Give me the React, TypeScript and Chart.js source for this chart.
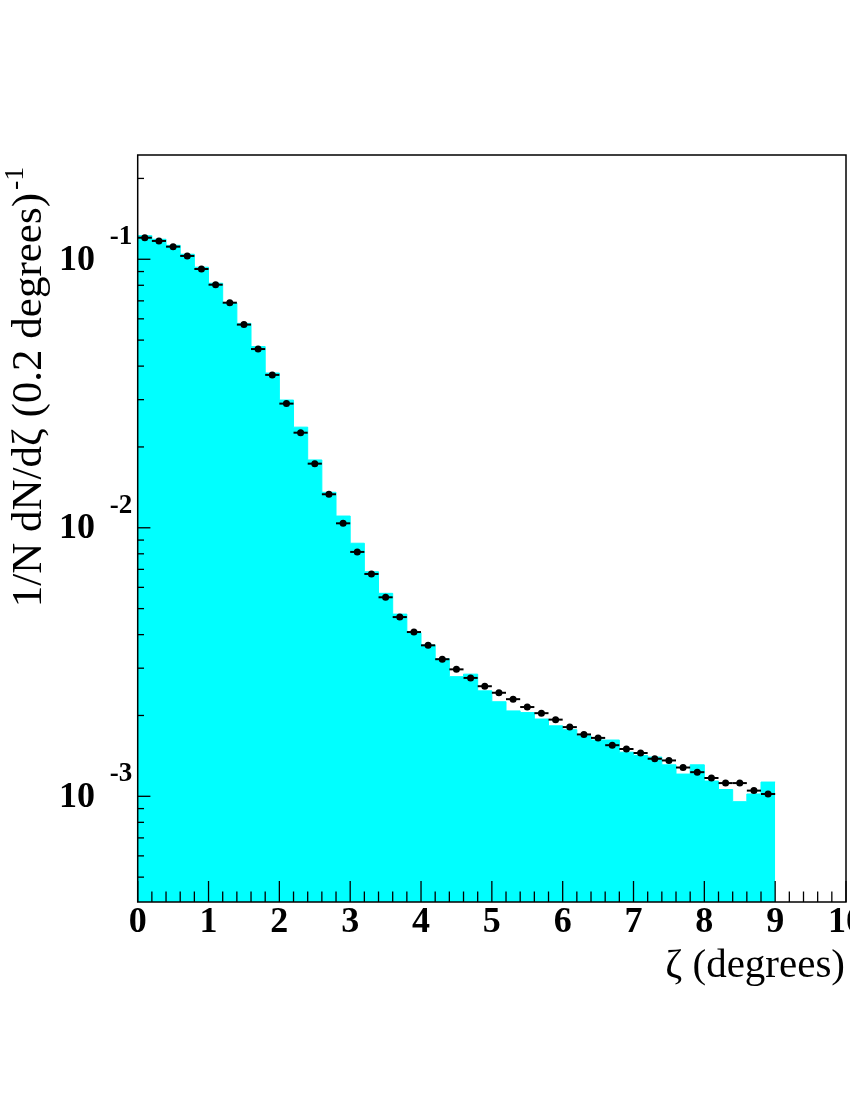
import React, { useEffect, useRef } from "react";
import { Chart, registerables } from "chart.js";

Chart.register(...registerables);

// ---- data ----
const binWidth = 0.2;
const binLow = [
  0.0, 0.2, 0.4, 0.6, 0.8, 1.0, 1.2, 1.4, 1.6, 1.8, 2.0, 2.2, 2.4, 2.6, 2.8,
  3.0, 3.2, 3.4, 3.6, 3.8, 4.0, 4.2, 4.4, 4.6, 4.8, 5.0, 5.2, 5.4, 5.6, 5.8,
  6.0, 6.2, 6.4, 6.6, 6.8, 7.0, 7.2, 7.4, 7.6, 7.8, 8.0, 8.2, 8.4, 8.6, 8.8,
];
// cyan histogram (simulation)
const histValues = [
  0.1224, 0.1187, 0.1127, 0.1044, 0.0934, 0.0814, 0.0687, 0.0577, 0.0473, 0.0377,
  0.0299, 0.0237, 0.01789, 0.01356, 0.01106, 0.00876, 0.00686, 0.0057, 0.00477, 0.00407,
  0.00366, 0.00325, 0.00279, 0.00285, 0.00247, 0.00225, 0.00208, 0.00205, 0.00194, 0.00183,
  0.00177, 0.00168, 0.00162, 0.00162, 0.00146, 0.00142, 0.0014, 0.00131, 0.00121, 0.00131,
  0.00114, 0.00106, 0.000955, 0.00102, 0.00113,
];
// black data points
const pointValues = [
  0.1203, 0.117, 0.1114, 0.1029, 0.092, 0.0804, 0.0689, 0.0571, 0.0463, 0.0371,
  0.029, 0.0226, 0.01733, 0.01333, 0.01039, 0.00813, 0.00673, 0.00551, 0.00465, 0.00409,
  0.00365, 0.00324, 0.00297, 0.00276, 0.00257, 0.00243, 0.0023, 0.00215, 0.00204, 0.00193,
  0.00181, 0.0017, 0.00165, 0.00155, 0.0015, 0.00145, 0.00138, 0.00136, 0.00128, 0.00123,
  0.00117, 0.00112, 0.00112, 0.00105, 0.00102,
];
const xTickValues = [0, 1, 2, 3, 4, 5, 6, 7, 8, 9, 10];
const xTickLabels = ["0", "1", "2", "3", "4", "5", "6", "7", "8", "9", "10"];
const yDecades = [-1, -2, -3];
const yDecadeLabels = ["-1", "-2", "-3"];
const xRange = [0, 10];
const yRange = [4.04e-4, 0.2445];
const xTitle = "\u03B6 (degrees)";
const yTitle = "1/N dN/d\u03B6 (0.2 degrees)";
const yTitleSup = "-1";

const SERIF = "'Liberation Serif', 'Times New Roman', serif";

const rootAxesPlugin = {
  id: "rootAxes",
  afterDatasetDraw(chart: any, args: any) {
    if (args.index !== 0) return;
    // horizontal error bars for the data points (drawn above the histogram, below markers)
    const ctx = chart.ctx;
    const xs = chart.scales.x;
    const ys = chart.scales.y;
    ctx.save();
    ctx.strokeStyle = "#000";
    ctx.lineWidth = 2;
    pointValues.forEach((v, i) => {
      const y = ys.getPixelForValue(v);
      ctx.beginPath();
      ctx.moveTo(xs.getPixelForValue(binLow[i]), y);
      ctx.lineTo(xs.getPixelForValue(binLow[i] + binWidth), y);
      ctx.stroke();
    });
    ctx.restore();
  },
  afterDraw(chart: any) {
    const ctx = chart.ctx;
    const xs = chart.scales.x;
    const ys = chart.scales.y;
    const { left, right, top, bottom } = chart.chartArea;
    ctx.save();
    // frame
    ctx.strokeStyle = "#000";
    ctx.lineWidth = 1.5;
    ctx.strokeRect(left, top, right - left, bottom - top);

    // y ticks (log)
    ctx.lineWidth = 1.3;
    for (let d = -5; d <= 1; d++) {
      for (let m = 1; m <= 9; m++) {
        const v = m * Math.pow(10, d);
        if (v < yRange[0] || v > yRange[1]) continue;
        const y = ys.getPixelForValue(v);
        const len = m === 1 ? 12.7 : 6.3;
        ctx.beginPath();
        ctx.moveTo(left, y);
        ctx.lineTo(left + len, y);
        ctx.stroke();
      }
    }
    // x ticks
    for (let i = 0; i <= 50; i++) {
      const v = i * 0.2;
      const x = xs.getPixelForValue(v);
      const len = i % 5 === 0 ? 21 : 10.5;
      ctx.beginPath();
      ctx.moveTo(x, bottom);
      ctx.lineTo(x, bottom - len);
      ctx.stroke();
    }

    // x labels
    ctx.fillStyle = "#000";
    ctx.font = `bold 36px ${SERIF}`;
    ctx.textAlign = "center";
    ctx.textBaseline = "middle";
    xTickValues.forEach((v, i) => {
      ctx.fillText(xTickLabels[i], xs.getPixelForValue(v), bottom + 21);
    });

    // y labels 10^d
    yDecades.forEach((d, i) => {
      const y = ys.getPixelForValue(Math.pow(10, d));
      ctx.font = `bold 36px ${SERIF}`;
      ctx.textAlign = "center";
      ctx.textBaseline = "middle";
      ctx.fillText("10", 77, y + 1);
      ctx.font = `bold 27px ${SERIF}`;
      ctx.fillText(yDecadeLabels[i], 121, y - 22);
    });

    // x title
    ctx.font = `41px ${SERIF}`;
    ctx.textAlign = "right";
    ctx.textBaseline = "alphabetic";
    ctx.fillText(xTitle, right - 1, 977);

    // y title (rotated)
    ctx.save();
    ctx.translate(41, 193);
    ctx.rotate(-Math.PI / 2);
    ctx.font = `43px ${SERIF}`;
    ctx.textAlign = "right";
    ctx.textBaseline = "alphabetic";
    ctx.fillText(yTitle, 0, 0);
    ctx.font = `28px ${SERIF}`;
    ctx.textAlign = "left";
    ctx.fillText(yTitleSup, 3, -18);
    ctx.restore();

    ctx.restore();
  },
};

export default function App() {
  const ref = useRef<HTMLCanvasElement | null>(null);
  useEffect(() => {
    if (!ref.current) return;
    const histData = binLow.map((x, i) => ({ x, y: histValues[i] }));
    histData.push({
      x: binLow[binLow.length - 1] + binWidth,
      y: histValues[histValues.length - 1],
    });
    const ptsData = binLow.map((x, i) => ({ x: x + binWidth / 2, y: pointValues[i] }));
    const chart = new Chart(ref.current, {
      type: "line",
      data: {
        datasets: [
          {
            data: histData,
            order: 2,
            stepped: true,
            fill: "start",
            backgroundColor: "#00ffff",
            borderColor: "#00ffff",
            borderWidth: 1,
            pointRadius: 0,
            tension: 0,
          } as any,
          {
            data: ptsData,
            order: 1,
            showLine: false,
            pointRadius: 3.5,
            pointBackgroundColor: "#000",
            pointBorderColor: "#000",
            pointBorderWidth: 0,
          } as any,
        ],
      },
      options: {
        responsive: false,
        animation: false,
        events: [],
        layout: { padding: { left: 137.7, top: 155, right: 3.5, bottom: 198 } },
        plugins: { legend: { display: false }, tooltip: { enabled: false } },
        scales: {
          x: { type: "linear", min: xRange[0], max: xRange[1], display: false },
          y: { type: "logarithmic", min: yRange[0], max: yRange[1], display: false },
        },
      },
      plugins: [rootAxesPlugin],
    });
    return () => chart.destroy();
  }, []);
  return (
    <div style={{ position: "absolute", left: 0, top: 0, width: 850, height: 1100, background: "#fff" }}>
      <canvas ref={ref} width={850} height={1100} style={{ width: 850, height: 1100, display: "block" }} />
    </div>
  );
}
